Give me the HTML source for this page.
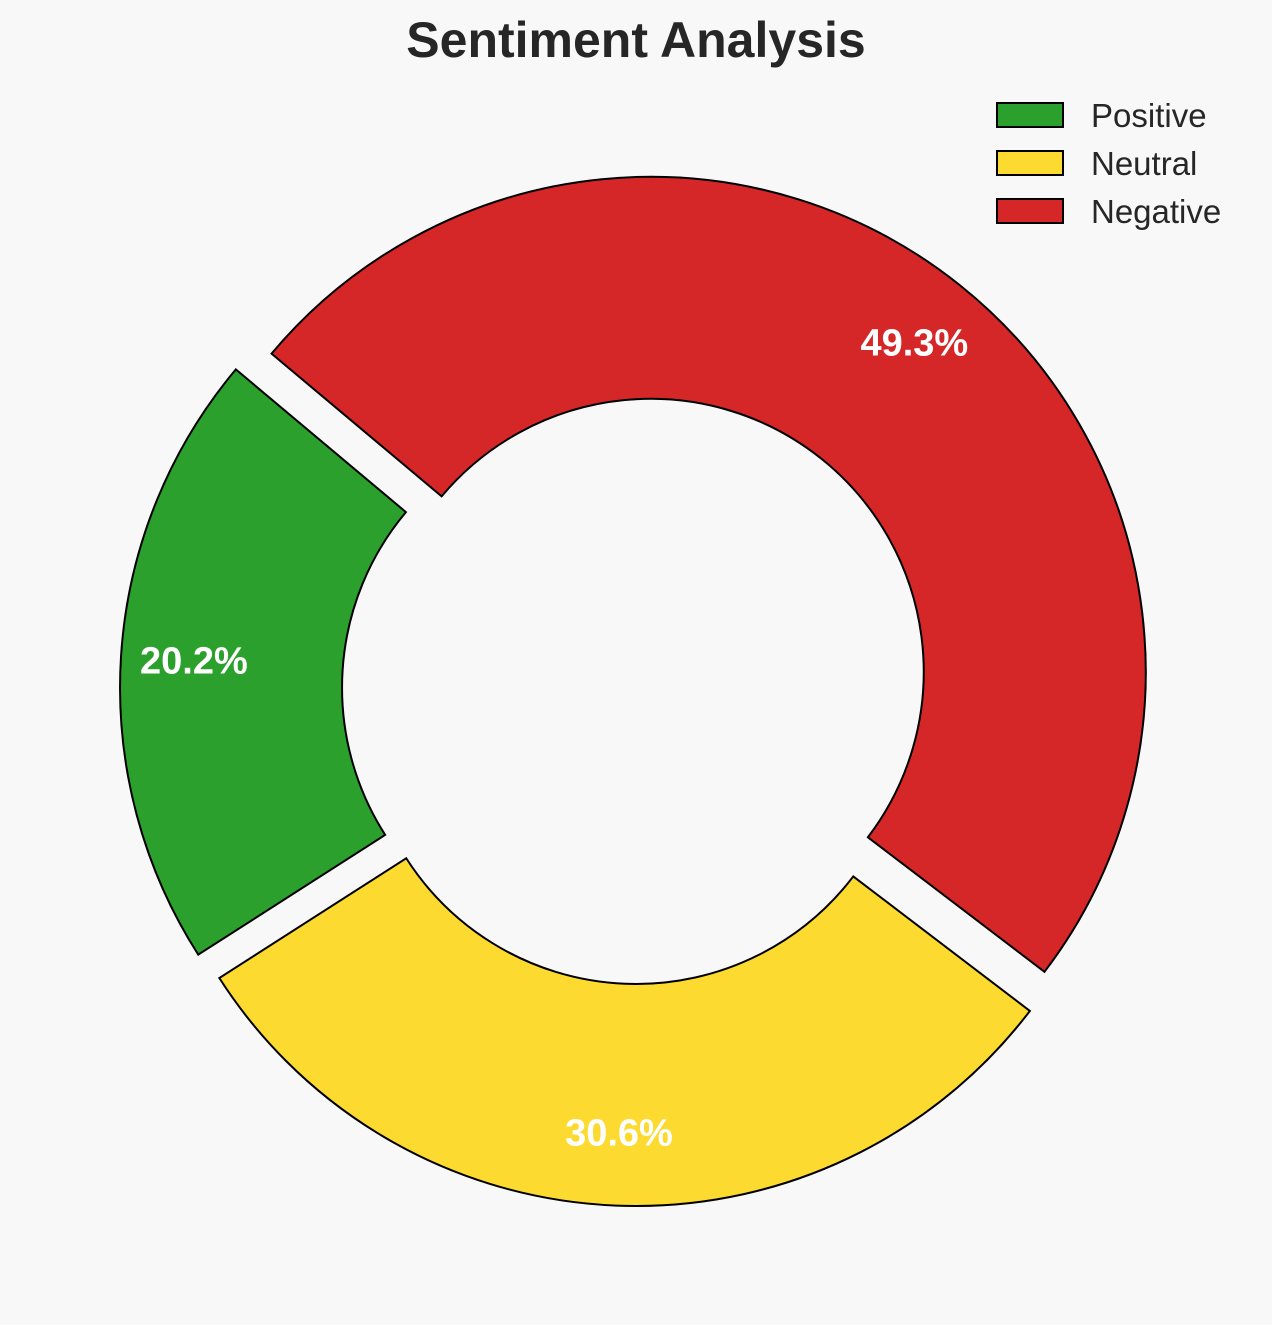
<!DOCTYPE html>
<html><head><meta charset="utf-8"><style>
html,body{margin:0;padding:0;background:#f8f8f8;}
svg{display:block;font-family:"Liberation Sans",Arial,sans-serif;}
</style></head><body>
<svg id="chart" width="1272" height="1325" viewBox="0 0 1272 1325">
<rect width="1272" height="1325" fill="#f8f8f8"/>
<text x="636" y="57" text-anchor="middle" font-size="50" font-weight="bold" fill="#262626">Sentiment Analysis</text>
<g id="wedges"></g>
<g id="legend"></g>
</svg>
<script>
const categories = ["Positive", "Neutral", "Negative"];
const values = [20.2, 30.6, 49.3];
const colors = ["#2ca02c", "#fdda30", "#d62728"];

const cx = 637, cy = 689, R = 495, r = 273, explode = 22, startAngle = 140, pctR = 422;
const ns = "http://www.w3.org/2000/svg";
const wg = document.getElementById("wedges");
const lg = document.getElementById("legend");
const total = values.reduce((a, b) => a + b, 0);
function pt(ox, oy, rad, deg) { const a = deg * Math.PI / 180; return [ox + rad * Math.cos(a), oy - rad * Math.sin(a)]; }
let ang = startAngle;
values.forEach((v, i) => {
  const sweep = v / total * 360;
  const a0 = ang, a1 = ang + sweep, mid = (a0 + a1) / 2;
  const [ox, oy] = pt(cx, cy, explode, mid);
  const p0 = pt(ox, oy, R, a0), p1 = pt(ox, oy, R, a1), q1 = pt(ox, oy, r, a1), q0 = pt(ox, oy, r, a0);
  const large = sweep > 180 ? 1 : 0;
  const d = `M${p0[0]},${p0[1]} A${R},${R} 0 ${large} 0 ${p1[0]},${p1[1]} L${q1[0]},${q1[1]} A${r},${r} 0 ${large} 1 ${q0[0]},${q0[1]} Z`;
  const path = document.createElementNS(ns, "path");
  path.setAttribute("d", d);
  path.setAttribute("fill", colors[i]);
  path.setAttribute("stroke", "#000");
  path.setAttribute("stroke-width", "2");
  
  
  wg.appendChild(path);
  const lp = pt(ox, oy, pctR, mid);
  const t = document.createElementNS(ns, "text");
  t.setAttribute("x", lp[0]); t.setAttribute("y", lp[1] + 13);
  t.setAttribute("text-anchor", "middle");
  t.setAttribute("font-size", "38"); t.setAttribute("font-weight", "bold"); t.setAttribute("fill", "#fff");
  t.textContent = (v / total * 100).toFixed(1) + "%";
  
  
  wg.appendChild(t);
  ang = a1;
});
categories.forEach((c, i) => {
  const y = 103 + i * 48;
  const rc = document.createElementNS(ns, "rect");
  rc.setAttribute("x", 997); rc.setAttribute("y", y); rc.setAttribute("width", 66); rc.setAttribute("height", 24);
  rc.setAttribute("fill", colors[i]); rc.setAttribute("stroke", "#000"); rc.setAttribute("stroke-width", "2");
  
  
  lg.appendChild(rc);
  const t = document.createElementNS(ns, "text");
  t.setAttribute("x", 1091); t.setAttribute("y", y + 24);
  t.setAttribute("font-size", "33"); t.setAttribute("fill", "#262626");
  t.textContent = c;
  
  
  lg.appendChild(t);
});
</script>
</body></html>
